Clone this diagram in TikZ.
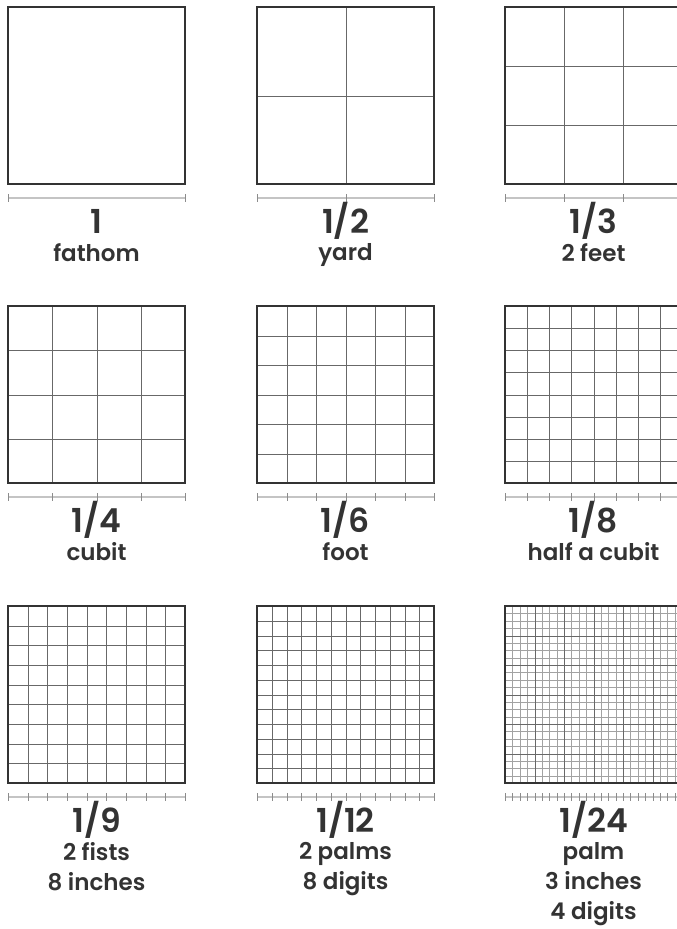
\documentclass[tikz,border=0pt]{standalone}
\usepackage{fontspec}
\setmainfont{Poppins}[BoldFont={Poppins SemiBold}]
\usepackage{tikz}
\usetikzlibrary{positioning}
\definecolor{encre}{HTML}{333333}
\definecolor{trait}{HTML}{686868}
\definecolor{fin}{HTML}{A2A2A2}
\definecolor{regle}{HTML}{C4C4C4}
\definecolor{cran}{HTML}{8C8C8C}

\begin{document}
\begin{tikzpicture}[x=1pt, y=-1pt,
    cadre/.style={draw=encre, line width=2.3pt},
    maille/.style={draw=trait, line width=1.2pt},
    mailfine/.style={draw=fin, line width=1pt},
    regle/.style={draw=regle, line width=1.2pt},
    fraction/.style={font=\fontsize{33}{33}\selectfont\bfseries, text=encre, inner sep=0pt},
    nom/.style={font=\fontsize{23}{30}\selectfont\bfseries, text=encre, inner sep=0pt, align=center}]
    \useasboundingbox (0,0) rectangle (677,929);
    \clip (0,0) rectangle (677,929);
    % x/y = coin haut gauche, \n = divisions, \m = divisions fortes
    \foreach \x/\y/\n/\m/\fr/\lab in {
        8/7/1/1/1/fathom, 257/7/2/2/1\slash 2/yard, 505/7/3/3/1\slash 3/2 feet,
        8/306/4/4/1\slash 4/cubit, 257/306/6/6/1\slash 6/foot, 505/306/8/8/1\slash 8/half a cubit,
        8/606/9/9/1\slash 9/{2 fists\\8 inches}, 257/606/12/12/1\slash 12/{2 palms\\8 digits},
        505/606/24/6/1\slash 24/{palm\\3 inches\\4 digits}} {
      % quadrillage (positions calees sur les pixels)
      \foreach \k [evaluate=\k as \p using round(\k*177/\n)+0.5] in {1,...,\n} {
        \draw[mailfine] (\x+\p, \y) -- (\x+\p, \y+177);
        \draw[mailfine] (\x, \y+\p) -- (\x+177, \y+\p);
      }
      \foreach \k [evaluate=\k as \p using round(\k*177/\m)+0.5] in {1,...,\m} {
        \draw[maille] (\x+\p, \y) -- (\x+\p, \y+177);
        \draw[maille] (\x, \y+\p) -- (\x+177, \y+\p);
      }
      \draw[cadre] (\x, \y) rectangle (\x+177, \y+177);
      % regle
      \draw[regle] (\x, \y+191) -- (\x+177, \y+191);
      \foreach \k [evaluate=\k as \p using round(\k*177/\n)+0.5] in {0,...,\n}
        \draw[draw=cran, line width=1pt] (\x+\p, \y+187) -- (\x+\p, \y+195);
      % textes
      \node[fraction, anchor=base] (fr-\x-\y) at (\x+88.5, \y+226) {\fr};
      \node[nom, anchor=north] (nom-\x-\y) at (\x+88.5, \y+236) {\lab};
    }
  \end{tikzpicture}
\end{document}
